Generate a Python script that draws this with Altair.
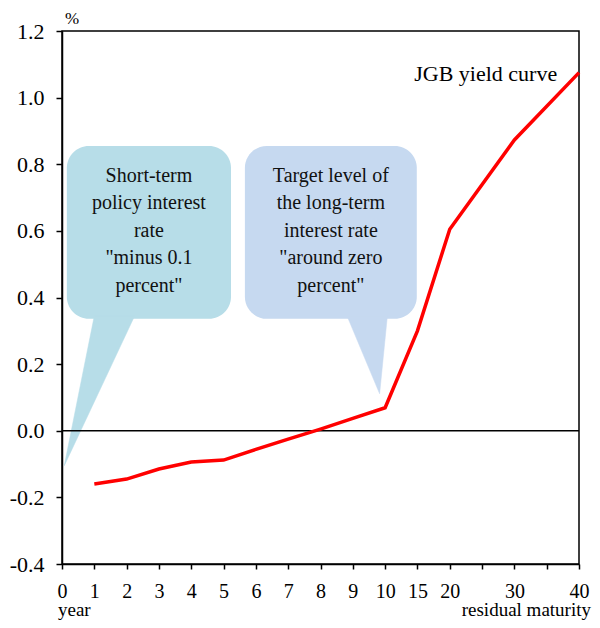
import altair as alt
import pandas as pd

FONT = "Liberation Serif"

# ---- data ----
maturity_labels = ["0", "1", "2", "3", "4", "5", "6", "7", "8", "9", "10", "15", "20", "", "30", "", "40"]
maturity = [1, 2, 3, 4, 5, 6, 7, 8, 9, 10, 15, 20, 30, 40]
position = [1, 2, 3, 4, 5, 6, 7, 8, 9, 10, 11, 12, 14, 16]
yield_pct = [-0.160, -0.145, -0.115, -0.094, -0.088, -0.056, -0.025, 0.005, 0.037, 0.069, 0.300, 0.605, 0.873, 1.075]

bubble_text = [
    "Short-term\npolicy interest\nrate\n\"minus 0.1\npercent\"",
    "Target level of\nthe long-term\ninterest rate\n\"around zero\npercent\"",
]
bubble_colors = ["#b7dde8", "#c6d9f0"]
bubble_x = [0.15, 5.66]
bubble_x2 = [5.23, 10.98]
bubble_y = [0.336, 0.336]
bubble_y2 = [0.855, 0.855]
text_top_y = [0.765, 0.765]

tail_x = [[1.0, 2.25, 0.07], [8.82, 10.07, 9.83]]
tail_y = [[0.345, 0.345, -0.105], [0.345, 0.345, 0.111]]

curve = pd.DataFrame({"pos": position, "maturity": maturity, "yield": yield_pct})
bubbles = pd.DataFrame({
    "x": bubble_x, "x2": bubble_x2, "y": bubble_y, "y2": bubble_y2,
    "text": bubble_text, "color": bubble_colors,
    "cx": [(a + b) / 2 for a, b in zip(bubble_x, bubble_x2)],
    "ty": text_top_y,
})

label_expr = "[" + ",".join("'%s'" % s for s in maturity_labels) + "][datum.value]"

xscale = alt.Scale(domain=[0, 16], nice=False, zero=False)
yscale = alt.Scale(domain=[-0.4, 1.2], nice=False)

xaxis = alt.Axis(values=list(range(17)), labelExpr=label_expr, grid=False,
                 domainColor="black", domainWidth=1.5, tickColor="black", tickWidth=1.5,
                 tickSize=5, labelFont=FONT, labelFontSize=20, labelColor="black",
                 labelPadding=12, title=None, labelFlush=False, labelOverlap=False)
yaxis = alt.Axis(values=[-0.4, -0.2, 0.0, 0.2, 0.4, 0.6, 0.8, 1.0, 1.2],
                 labelExpr="(datum.value < -0.001 ? '-' : '') + format(abs(datum.value), '.1f')",
                 grid=False,
                 domainColor="black", domainWidth=1.5, tickColor="black", tickWidth=1.5,
                 tickSize=6, labelFont=FONT, labelFontSize=22, labelColor="black",
                 labelPadding=12, title=None)

base_x = alt.X("x:Q", scale=xscale, axis=xaxis)
base_y = alt.Y("y:Q", scale=yscale, axis=yaxis)

rects = alt.Chart(bubbles).mark_rect(cornerRadius=22).encode(
    x=base_x, x2="x2:Q", y=base_y, y2="y2:Q",
    color=alt.Color("color:N", scale=None),
)

tail_layers = []
for i in range(2):
    tdf = pd.DataFrame({"x": tail_x[i], "y": tail_y[i], "o": [0, 1, 2]})
    tail_layers.append(
        alt.Chart(tdf).mark_line(fill=bubble_colors[i], stroke=bubble_colors[i], strokeWidth=0.5,
                                 interpolate="linear-closed").encode(
            x=alt.X("x:Q", scale=xscale, axis=xaxis),
            y=alt.Y("y:Q", scale=yscale, axis=yaxis),
            order="o:O",
        )
    )

texts = alt.Chart(bubbles).mark_text(font=FONT, fontSize=20, lineBreak="\n", lineHeight=27.5,
                                     baseline="middle", align="center", color="#111").encode(
    x=alt.X("cx:Q", scale=xscale, axis=xaxis),
    y=alt.Y("ty:Q", scale=yscale, axis=yaxis),
    text="text:N",
)

zero = alt.Chart(pd.DataFrame({"y": [0.0]})).mark_rule(color="black", strokeWidth=1.5).encode(
    y=alt.Y("y:Q", scale=yscale, axis=yaxis)
)

line = alt.Chart(curve).mark_line(color="#ff0000", strokeWidth=3.5).encode(
    x=alt.X("pos:Q", scale=xscale, axis=xaxis),
    y=alt.Y("yield:Q", scale=yscale, axis=yaxis),
)

curve_label = alt.Chart(pd.DataFrame({"x": [10.9], "y": [1.07], "t": ["JGB yield curve"]})).mark_text(
    font=FONT, fontSize=22, align="left", baseline="middle", color="black").encode(
    x=alt.X("x:Q", scale=xscale, axis=xaxis),
    y=alt.Y("y:Q", scale=yscale, axis=yaxis),
    text="t:N",
)

def px_text(t, x, y, align, size):
    return alt.Chart(pd.DataFrame({"t": [t]})).mark_text(
        font=FONT, fontSize=size, align=align, baseline="alphabetic", color="black").encode(
        x=alt.value(x), y=alt.value(y), text="t:N")

pct = px_text("%", 3, -7, "left", 17)
year = px_text("year", -4, 585, "left", 19)
resid = px_text("residual maturity", 529, 585, "right", 19)

chart = alt.layer(rects, *tail_layers, texts, zero, line, curve_label, pct, year, resid).properties(
    width=517, height=533,
    autosize=alt.AutoSizeParams(type="none"),
    padding={"left": 54, "top": 23, "right": 13, "bottom": 56},
).configure_view(stroke="black", strokeWidth=1.5)

chart.save("out.html", embed_options={"renderer": "svg", "actions": False})
